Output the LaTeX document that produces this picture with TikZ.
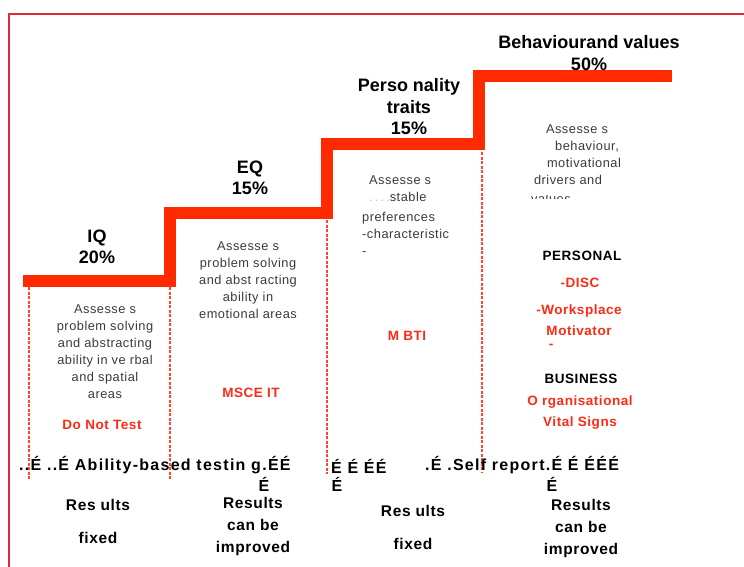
\documentclass[tikz,border=0pt]{standalone}
\usepackage{fontspec}
\setmainfont{Liberation Sans}
\newfontfamily\spaced[LetterSpace=4]{Liberation Sans}
\newfontfamily\wide[LetterSpace=8]{Liberation Sans}
\definecolor{stairred}{HTML}{FF2A00}
\definecolor{guidered}{HTML}{FF4433}
\definecolor{framered}{HTML}{D92B3A}
\definecolor{toolred}{HTML}{FF2A14}
\definecolor{descgray}{HTML}{3A3A3A}
\tikzstyle{stair} = [line width=12pt, stairred, line join=miter]
\tikzstyle{guide} = [dashed, dash pattern=on 3pt off 1.5pt, guidered, line width=1.1pt]
\tikzstyle{head} = [align=center, font=\fontsize{18}{21.5}\selectfont\bfseries]
\tikzstyle{desc} = [align=center, text=descgray, font=\spaced\fontsize{12.8}{17}\selectfont]
\tikzstyle{tool} = [align=center, text=toolred, font=\spaced\fontsize{13.5}{21}\selectfont\bfseries]
\tikzstyle{result} = [align=center, font=\spaced\fontsize{15.5}{22}\selectfont\bfseries]
\tikzstyle{garble} = [font=\wide\fontsize{16}{22}\selectfont\bfseries]

\begin{document}
\begin{tikzpicture}[x=1pt,y=-1pt,inner sep=0pt]
      \useasboundingbox (0,0) rectangle (744,567);
      \draw[framered,line width=1.3pt](744,14)--(9,14)--(9,567);
      % the four steps
      \draw[stair](23,281)-|(170,213)-|(327,144)-|(479,76)--(672,76);
      \draw[guide](29,287)--(29,480) (170,287)--(170,480) (327,220)--(327,474) (482,152)--(482,473);
      % headings
      \node[head](iq)at(97,247){IQ\\20\%};
      \node[head](eq)at(250,178){EQ\\15\%};
      \node[head](pers)at(409,107){Perso nality\\traits\\15\%};
      \node[head](beh)at(589,53){Behaviourand values\\50\%};
      % what each step assesses
      \node[desc](iqtxt)at(105,352){Assesse s\\problem solving\\and abstracting\\ability in ve rbal\\and spatial\\areas};
      \node[desc](eqtxt)at(248,280){Assesse s\\problem solving\\and abst racting\\ability in\\emotional areas};
      \node[desc,align=left,anchor=north west](perstxt)at(362,175){\hspace*{7pt}Assesse s\\\hspace*{7pt}{\color{gray!50}.\,.\,.\,.}stable\\[3pt]preferences\\-characteristic\\-};
      \node[desc](behtxt)at(577,155){Assesse s\\\hspace*{20pt}behaviour,\\\hspace*{14pt}motivational\\\hspace*{-18pt}drivers and};
      \begin{scope}
        \clip(520,195)rectangle(620,198.5);
        \node[desc,anchor=north west](values)at(531,194){values};
      \end{scope}
      % tools
      \node[tool](dnt)at(102,425){Do Not Test};
      \node[tool](msceit)at(251,393){MSCE IT};
      \node[tool](mbti)at(407,336){M BTI};
      \node[tool,text=black](personal)at(582,256){PERSONAL};
      \node[tool](disc)at(580,283){-DISC};
      \node[tool](motiv)at(579,320){-Worksplace\\Motivator};
      \node[tool](dash)at(551,346){-};
      \node[tool,text=black](business)at(581,379){BUSINESS};
      \node[tool](ovs)at(580,413){O rganisational\\Vital Signs};
      % bottom row
      \node[garble,anchor=west](ability)at(19,465){..É ..É Ability-based testin g.ÉÉ};
      \node[garble](abx)at(264,484){É};
      \node[garble,anchor=west](mid)at(331,466){É É ÉÉ};
      \node[garble](midx)at(337,484){É};
      \node[garble,anchor=west](self)at(425,465){.É .Self report.É É ÉÉÉ};
      \node[garble](selfx)at(552,484){É};
      \node[result](r1)at(98,521){Res ults\\[11pt]fixed};
      \node[result](r2)at(253,526){Results\\can be\\improved};
      \node[result](r3)at(413,527){Res ults\\[11pt]fixed};
      \node[result](r4)at(581,528){Results\\can be\\improved};
    \end{tikzpicture}
\end{document}
